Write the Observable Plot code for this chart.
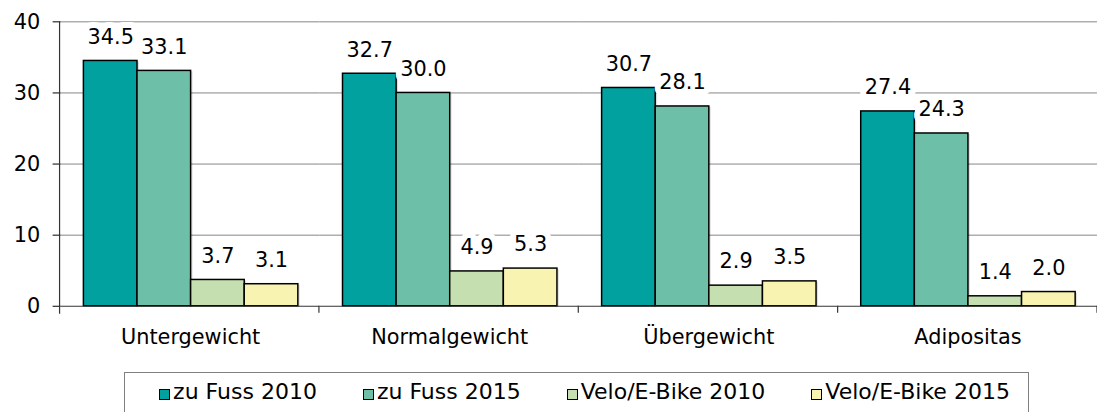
<!DOCTYPE html>
<html>
<head>
<meta charset="utf-8">
<script src="https://cdn.jsdelivr.net/npm/d3@7"></script>
<script src="https://cdn.jsdelivr.net/npm/@observablehq/plot@0.6"></script>
<style>
  html, body { margin: 0; padding: 0; background: #fff; overflow: hidden; width: 1097px; height: 412px; }
  #chart { position: absolute; left: 0; top: 0; }
  #legend {
    position: absolute; left: 124px; top: 372px; width: 905px; height: 60px;
    border: 1.5px solid #808080; box-sizing: border-box;
    display: flex; justify-content: center; align-items: flex-start; gap: 46px;
    padding-top: 5px; padding-left: 16px;
    font-family: "DejaVu Sans", sans-serif; font-size: 22px; line-height: 28px; color: #000;
  }
  .item { display: flex; align-items: center; white-space: nowrap; height: 28px; }
  .sw { display: inline-block; width: 9px; height: 9px; border: 1px solid #000; margin-right: 3px; margin-top: 4px; }
</style>
</head>
<body>
<div id="chart"></div>
<div id="legend"></div>
<script>
const categories = ["Untergewicht", "Normalgewicht", "Übergewicht", "Adipositas"];
const series = ["zu Fuss 2010", "zu Fuss 2015", "Velo/E-Bike 2010", "Velo/E-Bike 2015"];
const zuFuss2010 = [34.5, 32.7, 30.7, 27.4];
const zuFuss2015 = [33.1, 30.0, 28.1, 24.3];
const velo2010 = [3.7, 4.9, 2.9, 1.4];
const velo2015 = [3.1, 5.3, 3.5, 2.0];
const colors = ["#00A19F", "#6DBFA8", "#C5DFB0", "#F8F3B0"];
const yTicks = [0, 10, 20, 30, 40];

const seriesValues = [zuFuss2010, zuFuss2015, velo2010, velo2015];
const data = categories.flatMap((c, i) =>
  series.map((s, j) => ({category: c, series: s, value: seriesValues[j][i]}))
);

const chart = Plot.plot({
  width: 1105,
  height: 360,
  marginLeft: 60,
  marginRight: 0,
  marginTop: 21.5,
  marginBottom: 52,
  facet: {marginTop: 0, marginRight: 0, marginBottom: 0, marginLeft: 0},
  style: {fontFamily: "DejaVu Sans", fontSize: "21px", background: "white", color: "black", overflow: "visible"},
  fx: {domain: categories, padding: 0, label: null, tickSize: 0, tickPadding: 23},
  x: {domain: series, paddingInner: 0, paddingOuter: 0.4, axis: null},
  y: {domain: [0, 40], ticks: yTicks, tickSize: 8, tickPadding: 13, label: null},
  color: {domain: series, range: colors},
  marks: [
    Plot.ruleY(yTicks.filter(t => t > 0), {stroke: "#868686", strokeWidth: 1}),
    Plot.barY(data, {fx: "category", x: "series", y: "value", fill: "#000", fillOpacity: 0.12, dx: 2, dy: 1}),
    Plot.barY(data, {fx: "category", x: "series", y: "value", fill: "series", stroke: "#000", strokeWidth: 1.5}),
    Plot.ruleY([0], {stroke: "#333", strokeWidth: 1.2}),
    Plot.text(data, {
      fx: "category", x: "series", y: "value",
      text: d => d.value.toFixed(1), dy: -24,
      fill: "black", stroke: "white", strokeWidth: 12, strokeLinejoin: "round", paintOrder: "stroke",
      fontSize: 21
    })
  ]
});
document.getElementById("chart").appendChild(chart);

// axis line and category boundary ticks, from the plot's own scales
const fxS = chart.scale("fx");
const yS = chart.scale("y");
const yScale = d3.scaleLinear().domain(yS.domain).range(yS.range);
const [r0, r1] = fxS.range;
const step = (r1 - r0) / categories.length;
const svg = d3.select(chart);
const g = svg.append("g").attr("stroke", "#333").attr("stroke-width", 1.2);
g.append("line").attr("x1", r0).attr("x2", r0).attr("y1", yScale(40)).attr("y2", yScale(0) + 8);
for (let i = 1; i <= categories.length; i++) {
  const x = r0 + i * step;
  g.append("line").attr("x1", x).attr("x2", x).attr("y1", yScale(0)).attr("y2", yScale(0) + 7);
}

// legend
const legend = document.getElementById("legend");
series.forEach((s, j) => {
  const it = document.createElement("div");
  it.className = "item";
  const sw = document.createElement("span");
  sw.className = "sw";
  sw.style.background = colors[j];
  it.appendChild(sw);
  it.appendChild(document.createTextNode(s));
  legend.appendChild(it);
});
</script>
</body>
</html>
